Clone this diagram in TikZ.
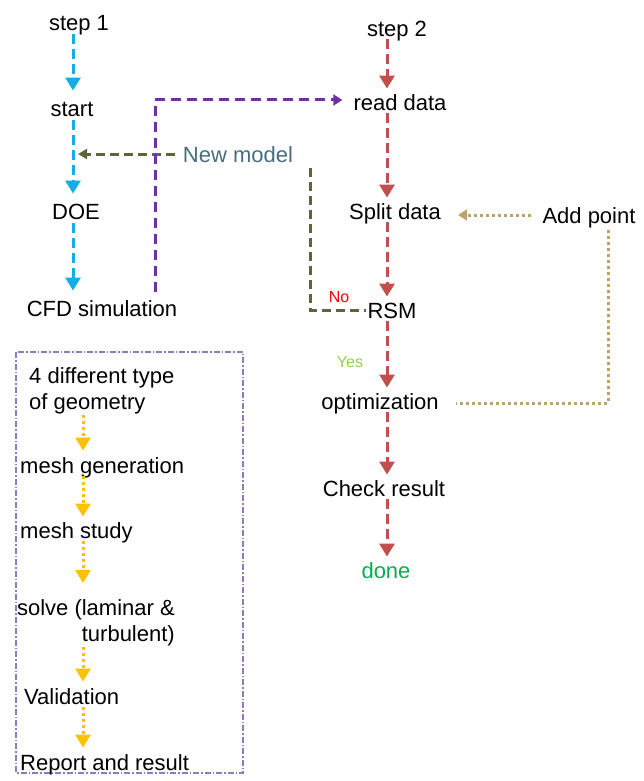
\documentclass[tikz,border=0pt]{standalone}
\usepackage{fontspec}
\setmainfont{Liberation Sans}
\usetikzlibrary{arrows.meta}

\definecolor{flowblue}{RGB}{22,172,230}
\definecolor{flowred}{RGB}{192,80,77}
\definecolor{flowpurple}{RGB}{112,48,160}
\definecolor{flowolive}{RGB}{94,101,56}
\definecolor{flowtan}{RGB}{185,165,105}
\definecolor{floworange}{RGB}{255,192,0}
\definecolor{boxpurple}{RGB}{142,124,195}
\definecolor{modelteal}{RGB}{70,110,125}
\definecolor{nored}{RGB}{255,0,0}
\definecolor{yesgreen}{RGB}{146,208,80}
\definecolor{donegreen}{RGB}{0,176,80}

\begin{document}
\begin{tikzpicture}[x=1pt,y=-1pt,
  txt/.style={inner sep=0pt,text height=18.5pt,text depth=2pt,font=\fontsize{22}{26}\selectfont},
  twoline/.style={inner sep=0pt,font=\fontsize{22}{26}\selectfont},
  lbl/.style={inner sep=0pt,text height=13pt,text depth=2pt,font=\fontsize{16}{19}\selectfont},
  bluearr/.style={flowblue,line width=3pt,dash pattern=on 10pt off 5pt,-{Triangle[width=15pt,length=13pt]},shorten <=2pt,shorten >=7pt},
  redarr/.style={flowred,line width=3pt,dash pattern=on 10pt off 5pt,-{Triangle[width=15pt,length=13pt]},shorten <=1pt,shorten >=3pt},
  purparr/.style={flowpurple,line width=3pt,dash pattern=on 10pt off 6pt,-{Triangle[width=11pt,length=9pt]}},
  olivearr/.style={flowolive,line width=3pt,dash pattern=on 9pt off 5pt},
  tanarr/.style={flowtan,line width=3pt,dash pattern=on 3pt off 3pt},
  orangearr/.style={floworange,line width=3pt,dash pattern=on 3pt off 3pt,-{Triangle[width=15pt,length=13pt]},shorten <=1pt},
  boxframe/.style={boxpurple,line width=1.5pt,dash pattern=on 6pt off 2pt on 1.5pt off 2pt}]

\useasboundingbox (0,0) rectangle (643,781);

% step 1
\node[txt] (step1) at (79,22) {step 1};
\node[txt] (start) at (72,108) {start};
\node[txt] (doe) at (76,211) {DOE};
\node[txt] (cfd) at (102,308) {CFD simulation};
\node[txt,text=modelteal] (newmodel) at (238,154) {New model};

\coordinate (bx) at (73,0);
\foreach \a/\b in {step1/start,start/doe,doe/cfd}
{
\draw[bluearr] (\a.south -| bx) -- (\b.north -| bx);
}

% step 2
\node[txt] (step2) at (397,28) {step 2};
\node[txt] (read) at (400,102) {read data};
\node[txt] (split) at (395,211) {Split data};
\node[txt] (add) at (589,215) {Add point};
\node[txt] (rsm) at (392,310) {RSM};
\node[txt] (opt) at (380,401) {optimization};
\node[txt] (check) at (384,488) {Check result};
\node[txt,text=donegreen] (done) at (386,570) {done};
\node[lbl,text=nored] (no) at (339,297) {No};
\node[lbl,text=yesgreen] (yes) at (350,362) {Yes};

\coordinate (rx) at (387,0);
\foreach \a/\b in {step2/read,read/split,split/rsm,rsm/opt,opt/check,check/done}
{
\draw[redarr] (\a.south -| rx) -- (\b.north -| rx);
}

% links between the two steps
\coordinate (tipx) at (78,0);
\coordinate (pv) at (155,0);
\coordinate (nmdrop) at (310,168);
\coordinate (tv) at (608,0);
\draw[olivearr,-{Triangle[width=10pt,length=9pt]},shorten <=8pt] (newmodel.west) -- (newmodel.west -| tipx);
\draw[purparr,shorten <=6pt,shorten >=11pt] (cfd.north -| pv) |- ([yshift=2pt]read.west);
\draw[olivearr,shorten >=1pt] (nmdrop) |- (rsm.west);
\draw[tanarr,-{Triangle[width=11pt,length=9pt]},shorten <=11pt,shorten >=17pt] (add.west) -- (split.east |- add.west);
\draw[tanarr,shorten <=5pt,shorten >=17pt] (add.south -| tv) |- ([yshift=-2pt]opt.east);

% CFD box
\draw[boxframe] (16,352) rectangle (243,773);
\node[twoline,anchor=north west,align=left] (geo) at (29,367) {4 different type\\of geometry};
\node[txt,anchor=west] (mesh) at (20,465) {mesh generation};
\node[txt,anchor=west] (study) at (20,530) {mesh study};
\node[twoline,anchor=north east,align=right] (solve) at (175,599) {solve (laminar \&\\turbulent)};
\node[txt,anchor=west] (valid) at (24,696) {Validation};
\node[txt,anchor=west] (report) at (20,762) {Report and result};

\coordinate (ox) at (83,0);
\foreach \a/\b/\s in {geo/mesh/4,mesh/study/3,study/solve/16,solve/valid/4,valid/report/4}
{
\draw[orangearr,shorten >=\s pt] (\a.south -| ox) -- (\b.north -| ox);
}

\end{tikzpicture}
\end{document}
